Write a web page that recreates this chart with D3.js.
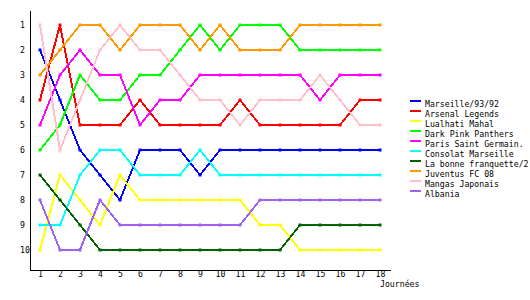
<!DOCTYPE html>
<html><head><meta charset="utf-8">
<script src="https://cdn.jsdelivr.net/npm/d3@7"></script>
<style>
body{margin:0;background:#fff;}
text{font-family:"DejaVu Sans Mono",monospace;font-size:8.2px;fill:#000;}
</style></head>
<body><svg id="c" width="530" height="300"></svg>
<script>
const rounds = d3.range(1, 19);
const teams = ["Marseille/93/92","Arsenal Legends","Lualhati Mahal","Dark Pink Panthers","Paris Saint Germain.","Consolat Marseille","La bonne franquette/2","Juventus FC 08","Mangas Japonais","Albania"];
const colors = ["#0000ff","#ff0000","#ffff00","#00ff00","#ff00ff","#00ffff","#006400","#ff9900","#ffc0cb","#a060f0"];
const marseille = [2,4,6,7,8,6,6,6,7,6,6,6,6,6,6,6,6,6];
const arsenal   = [4,1,5,5,5,4,5,5,5,5,4,5,5,5,5,5,4,4];
const lualhati  = [10,7,8,9,7,8,8,8,8,8,8,9,9,10,10,10,10,10];
const darkPink  = [6,5,3,4,4,3,3,2,1,2,1,1,1,2,2,2,2,2];
const psg       = [5,3,2,3,3,5,4,4,3,3,3,3,3,3,4,3,3,3];
const consolat  = [9,9,7,6,6,7,7,7,6,7,7,7,7,7,7,7,7,7];
const franquette= [7,8,9,10,10,10,10,10,10,10,10,10,10,9,9,9,9,9];
const juventus  = [3,2,1,1,2,1,1,1,2,1,2,2,2,1,1,1,1,1];
const mangas    = [1,6,4,2,1,2,2,3,4,4,5,4,4,4,3,4,5,5];
const albania   = [8,10,10,8,9,9,9,9,9,9,9,8,8,8,8,8,8,8];
const series = [marseille,arsenal,lualhati,darkPink,psg,consolat,franquette,juventus,mangas,albania];
const yTicks = d3.range(1, 11);
const xLabel = "Journées";

const svg = d3.select("#c");
const x = d3.scaleLinear().domain([0.5, 18.5]).range([30, 390]);
const y = d3.scaleLinear().domain([0.4, 10.8]).range([10, 270]);

// axes
const gx = svg.append("g").attr("transform","translate(0,270)")
  .call(d3.axisBottom(x).tickValues(rounds).tickSize(0).tickPadding(1).tickFormat(d3.format("d")));
const gy = svg.append("g").attr("transform","translate(30,0)")
  .call(d3.axisLeft(y).tickValues(yTicks).tickSize(0).tickFormat(d3.format("d")));
[gx, gy].forEach(g => {
  g.select(".domain").attr("stroke","#000").attr("stroke-width",1.5).attr("shape-rendering","crispEdges");
  g.selectAll("text").style("font-family",'"DejaVu Sans Mono",monospace').style("font-size","8.2px").attr("fill","#000");
});
gy.selectAll("text").attr("text-anchor","start").attr("x",-10).attr("dy","0.35em");
gx.selectAll("text").attr("dy","0.7em");
svg.append("text").attr("x", 380).attr("y", 287).text(xLabel);

// lines
const line = d3.line().x((d,i)=>x(rounds[i])).y(d=>y(d));
series.forEach((s, k) => {
  const g = svg.append("g");
  g.append("path").attr("d", line(s)).attr("fill","none").attr("stroke",colors[k]).attr("stroke-width",2).attr("shape-rendering","crispEdges");
  g.selectAll("rect").data(s).join("rect")
    .attr("x",(d,i)=>x(rounds[i])-1.5).attr("y",d=>y(d)-1.5).attr("width",3).attr("height",3).attr("fill",colors[k]);
});

// legend
const lg = svg.append("g");
teams.forEach((t, k) => {
  const yy = 100 + k*10;
  lg.append("rect").attr("x",410).attr("y",yy).attr("width",11).attr("height",2).attr("fill",colors[k]);
  lg.append("text").attr("x",425).attr("y",yy+6.5).text(t);
});
</script></body></html>
